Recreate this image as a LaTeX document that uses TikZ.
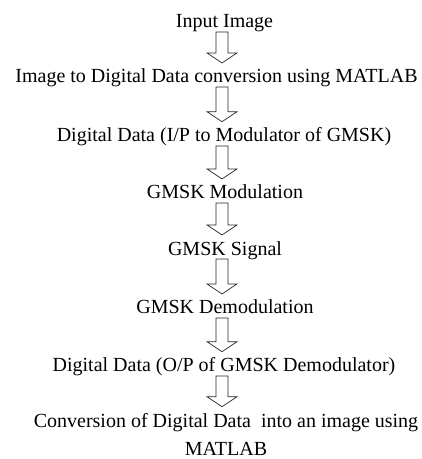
\documentclass[tikz,border=0pt]{standalone}
\usepackage{fontspec}
\setmainfont{Liberation Serif}
\usetikzlibrary{calc}
% hollow block arrow from the baseline of #1 down to just above #2
\newcommand{\flowarrow}[2]{%
  \draw[flow] ($(#1.base -| spine)+(6,-4)$) -- ($(#2.north -| spine)+(6,16)$) -- ++(9,0)
    -- ($(#2.north -| spine)+(0,6)$) -- ++(-15,10) -- ++(9,0)
    -- ($(#1.base -| spine)+(-6,-4)$) -- cycle;}
\begin{document}
\begin{tikzpicture}[x=1pt,y=1pt]
        \tikzstyle{stage} = [text=black, inner sep=0pt, anchor=base, font=\fontsize{20}{28}\selectfont]
        \tikzstyle{flow} = [draw=black!85, line width=.7, line join=miter]
        \useasboundingbox (0,0) rectangle (422,459);
        \coordinate (spine) at (222,0);
        \node[stage] (input) at (224.5,431) {Input Image};
        \node[stage] (todata) at (216.5,376) {Image to Digital Data conversion using MATLAB};
        \node[stage] (datain) at (224,317) {Digital Data (I/P to Modulator of GMSK)};
        \node[stage] (modul) at (225,260) {GMSK Modulation};
        \node[stage] (signal) at (225,204) {GMSK Signal};
        \node[stage] (demod) at (225,145) {GMSK Demodulation};
        \node[stage] (dataout) at (224,87) {Digital Data (O/P of GMSK Demodulator)};
        % base of a two-line node is its last line
        \node[stage,align=center] (toimage) at (226,4) {Conversion of Digital Data\ \ into an image using\\MATLAB};
        \flowarrow{input}{todata}
        \flowarrow{todata}{datain}
        \flowarrow{datain}{modul}
        \flowarrow{modul}{signal}
        \flowarrow{signal}{demod}
        \flowarrow{demod}{dataout}
        \flowarrow{dataout}{toimage}
    \end{tikzpicture}
\end{document}
